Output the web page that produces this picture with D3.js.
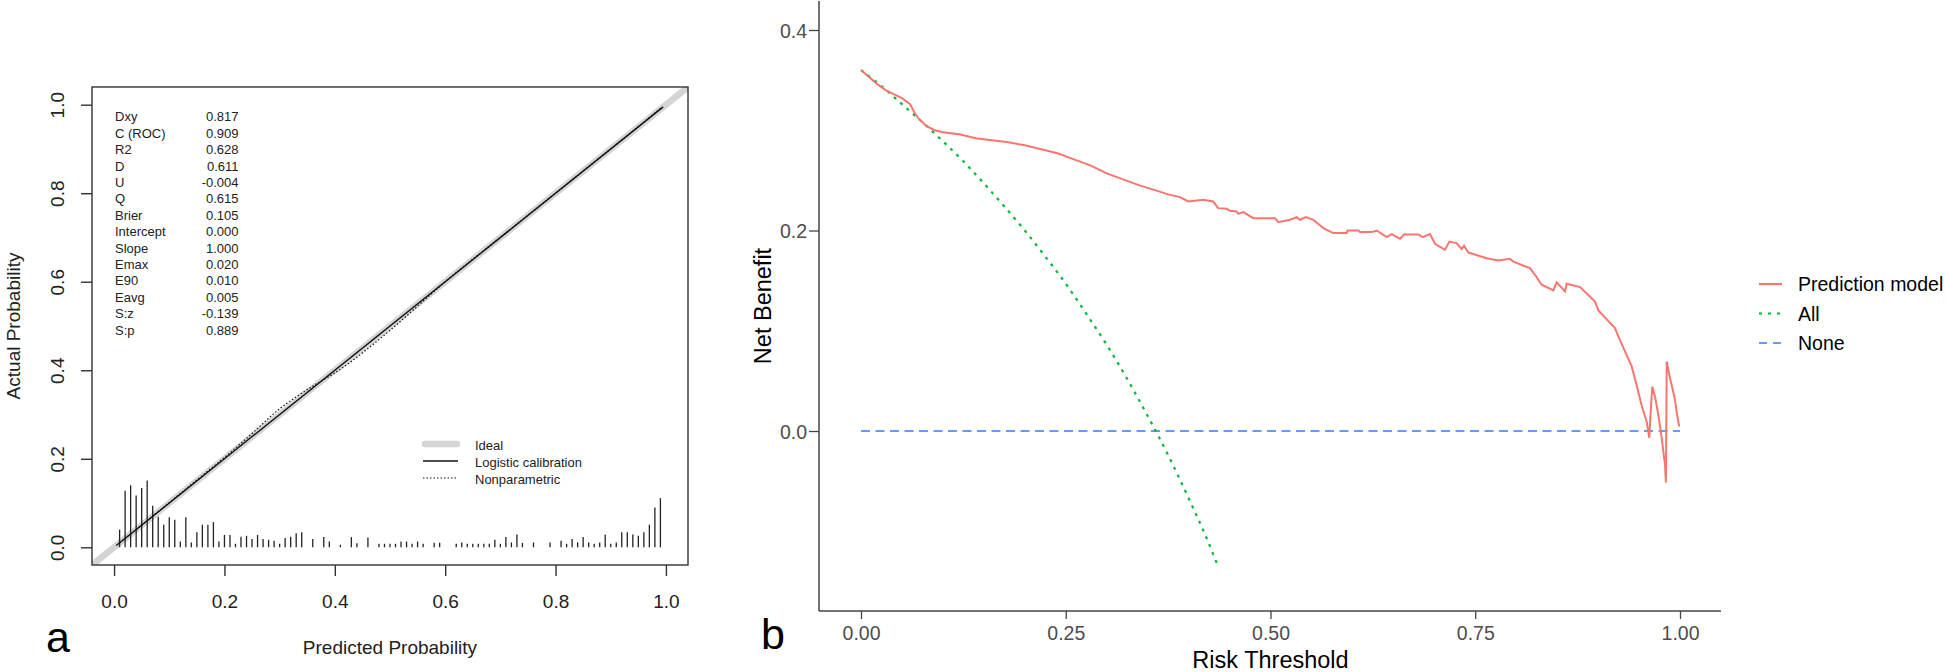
<!DOCTYPE html>
<html>
<head>
<meta charset="utf-8">
<script src="https://cdn.jsdelivr.net/npm/d3@7"></script>
<style>
body{margin:0;background:#fff;}
text{font-family:"Liberation Sans",Arial,sans-serif;}
</style>
</head>
<body>
<div class="box"></div>
<script>
// ---- panel a : calibration ----
const statLabels=['Dxy','C (ROC)','R2','D','U','Q','Brier','Intercept','Slope','Emax','E90','Eavg','S:z','S:p'];
const statValues=['0.817','0.909','0.628','0.611','-0.004','0.615','0.105','0.000','1.000','0.020','0.010','0.005','-0.139','0.889'];
const calTicks=[0,0.2,0.4,0.6,0.8,1.0];
const logisticX=[0.004,0.995];
const logisticY=[0.004,0.995];
const nonparX=[0.01,0.05,0.10,0.15,0.20,0.25,0.30,0.33,0.36,0.40,0.43,0.46,0.50,0.55,0.60,0.70,0.80,0.90,0.95,0.99];
const nonparY=[0.010,0.050,0.101,0.152,0.203,0.257,0.313,0.340,0.364,0.394,0.420,0.449,0.490,0.545,0.600,0.700,0.800,0.900,0.950,0.992];
const spikes=[[0.01,0.040],[0.02,0.128],[0.03,0.140],[0.04,0.117],[0.05,0.134],[0.06,0.151],[0.07,0.094],[0.08,0.069],[0.09,0.051],[0.10,0.068],
[0.11,0.062],[0.12,0.013],[0.13,0.068],[0.14,0.011],[0.15,0.034],[0.16,0.051],[0.17,0.051],[0.18,0.057],[0.19,0.013],[0.20,0.028],
[0.21,0.028],[0.22,0.008],[0.23,0.024],[0.24,0.026],[0.25,0.019],[0.26,0.028],[0.27,0.019],[0.28,0.017],[0.29,0.015],[0.30,0.008],
[0.31,0.021],[0.32,0.024],[0.33,0.032],[0.34,0.034],[0.36,0.019],[0.38,0.023],[0.39,0.013],[0.41,0.006],[0.43,0.023],[0.44,0.009],
[0.46,0.022],[0.48,0.008],[0.49,0.008],[0.50,0.008],[0.51,0.008],[0.52,0.013],[0.53,0.013],[0.54,0.008],[0.55,0.013],[0.56,0.008],
[0.58,0.010],[0.59,0.010],[0.62,0.008],[0.63,0.011],[0.64,0.008],[0.65,0.008],[0.66,0.008],[0.67,0.008],[0.68,0.008],[0.69,0.017],
[0.70,0.008],[0.71,0.023],[0.72,0.011],[0.73,0.029],[0.74,0.010],[0.76,0.011],[0.79,0.011],[0.81,0.015],[0.82,0.008],[0.83,0.019],
[0.84,0.011],[0.85,0.023],[0.86,0.011],[0.87,0.008],[0.88,0.011],[0.89,0.029],[0.90,0.008],[0.91,0.011],[0.92,0.034],[0.93,0.034],
[0.94,0.029],[0.95,0.026],[0.96,0.034],[0.97,0.051],[0.98,0.090],[0.99,0.111]];
const calLegend=['Ideal','Logistic calibration','Nonparametric'];

// ---- panel b : decision curve ----
const dcaXTicks=[0,0.25,0.5,0.75,1];
const dcaYTicks=[0,0.2,0.4];
const allX=[0,0.025,0.05,0.075,0.10,0.125,0.15,0.175,0.20,0.225,0.25,0.275,0.30,0.325,0.35,0.375,0.40,0.42,0.435];
const allY=[0.360,0.344,0.326,0.308,0.289,0.269,0.247,0.224,0.200,0.174,0.147,0.117,0.086,0.052,0.015,-0.024,-0.067,-0.103,-0.133];
const noneX=[0,1];
const noneY=[0,0];
const modelX=[0,0.01,0.02,0.03,0.04,0.05,0.06,0.065,0.07,0.08,0.09,0.10,0.12,0.14,0.16,0.18,0.20,0.22,0.24,0.26,0.28,0.30,0.32,0.34,0.36,0.375,
0.3895,0.3997,0.418,0.430,0.436,0.4465,0.4505,0.4587,0.4607,0.4668,0.479,0.5055,0.5096,0.5238,0.532,0.536,0.5433,0.5523,0.5645,0.5767,
0.593,0.594,0.6072,0.6093,0.6236,0.6297,0.6419,0.648,0.6581,0.663,0.6805,0.6858,0.6947,0.7009,0.713,0.7184,0.7273,0.7334,0.7363,0.7415,
0.764,0.778,0.7924,0.7965,0.8168,0.823,0.8311,0.8453,0.8494,0.8596,0.8616,0.878,0.8962,0.9003,0.9206,0.9247,0.9328,0.941,0.947,0.953,
0.9593,0.9625,0.9642,0.9662,0.9695,0.9736,0.9777,0.9817,0.9828,0.9838,0.9875,0.9936,0.9965,0.999];
const modelY=[0.360,0.353,0.346,0.340,0.336,0.332,0.326,0.318,0.312,0.304,0.300,0.298,0.296,0.292,0.290,0.288,0.285,0.281,0.277,0.271,0.265,0.257,0.251,0.245,0.240,0.236,
0.2333,0.229,0.2306,0.229,0.2223,0.2216,0.2196,0.219,0.2166,0.2183,0.2123,0.2123,0.2083,0.2107,0.2133,0.2107,0.2133,0.2107,0.2024,0.1974,
0.1974,0.200,0.200,0.1984,0.1984,0.200,0.1934,0.1964,0.1917,0.196,0.196,0.1934,0.1964,0.1867,0.1807,0.189,0.1874,0.1814,0.1847,0.178,
0.1724,0.170,0.1717,0.169,0.1624,0.1558,0.1459,0.1402,0.1482,0.1392,0.1469,0.1436,0.1292,0.1203,0.1027,0.0943,0.0794,0.0644,0.046,0.026,
0.0093,-0.0067,0.0192,0.0442,0.0342,0.016,-0.0073,-0.0339,-0.0515,0.0694,0.054,0.0325,0.016,0.0043];
const dcaLegend=['Prediction model','All','None'];
const dcaColors=['#F8766D','#00BA38','#619CFF'];
const dcaDash=[null,'3,5.5','9,5.5'];
const legDash=[null,'3,6','8,6'];

const svg=d3.select('.box').append('svg').attr('width',1946).attr('height',672).style('background','white');
const ink='#333';

// ===== panel a =====
const xL=d3.scaleLinear().domain([-0.04,1.04]).range([92,688]);
const yL=d3.scaleLinear().domain([-0.04,1.04]).range([565,87]);
const gA=svg.append('g');
gA.append('clipPath').attr('id','clipA').append('rect')
  .attr('x',xL(-0.04)).attr('y',yL(1.04)).attr('width',xL(1.04)-xL(-0.04)).attr('height',yL(-0.04)-yL(1.04));

// ideal line
gA.append('line').attr('clip-path','url(#clipA)')
  .attr('x1',xL(-0.04)).attr('y1',yL(-0.04)).attr('x2',xL(1.04)).attr('y2',yL(1.04))
  .attr('stroke','#d4d4d4').attr('stroke-width',6.5);

// spike histogram
gA.selectAll('line.spike').data(spikes).enter().append('line').attr('class','spike')
  .attr('x1',d=>xL(d[0])).attr('x2',d=>xL(d[0]))
  .attr('y1',yL(0)).attr('y2',d=>yL(d[1]))
  .attr('stroke','#222').attr('stroke-width',1.3);

const lineL=d3.line().x(d=>xL(d[0])).y(d=>yL(d[1]));
gA.append('path').datum(logisticX.map((v,i)=>[v,logisticY[i]]))
  .attr('d',lineL).attr('fill','none').attr('stroke','#111').attr('stroke-width',1.4);
gA.append('path').datum(nonparX.map((v,i)=>[v,nonparY[i]]))
  .attr('d',lineL.curve(d3.curveMonotoneX)).attr('fill','none').attr('stroke','#111').attr('stroke-width',1.2).attr('stroke-dasharray','1.5,2');

// box
gA.append('rect').attr('x',xL(-0.04)).attr('y',yL(1.04))
  .attr('width',xL(1.04)-xL(-0.04)).attr('height',yL(-0.04)-yL(1.04))
  .attr('fill','none').attr('stroke',ink).attr('stroke-width',1.4);

// axes
const axAx=gA.append('g').attr('transform',`translate(0,${yL(-0.04)})`)
  .call(d3.axisBottom(xL).tickValues(calTicks).tickSize(11).tickSizeOuter(0).tickFormat(d3.format('.1f')));
axAx.select('.domain').remove();
axAx.selectAll('line').attr('stroke',ink).attr('stroke-width',1.4);
axAx.selectAll('text').attr('y',43).attr('dy',0).attr('font-size',19).attr('fill','#222');

const axAy=gA.append('g').attr('transform',`translate(${xL(-0.04)},0)`)
  .call(d3.axisLeft(yL).tickValues(calTicks).tickSize(11).tickSizeOuter(0).tickFormat(d3.format('.1f')));
axAy.select('.domain').remove();
axAy.selectAll('line').attr('stroke',ink).attr('stroke-width',1.4);
axAy.selectAll('text').attr('transform','rotate(-90)').attr('x',0).attr('y',-28.5).attr('dy',0)
  .attr('text-anchor','middle').attr('font-size',19).attr('fill','#222');

gA.append('text').attr('x',(xL(0)+xL(1))/2).attr('y',654).attr('text-anchor','middle')
  .attr('font-size',19).attr('fill','#222').text('Predicted Probability');
gA.append('text').attr('transform',`translate(20,${(yL(-0.04)+yL(1.04))/2}) rotate(-90)`)
  .attr('text-anchor','middle').attr('font-size',19).attr('fill','#222').text('Actual Probability');

// stats block
const stats=gA.append('g');
statLabels.forEach((lab,i)=>{
  const yy=121.4+i*16.4;
  stats.append('text').attr('x',115).attr('y',yy).attr('font-size',13).attr('fill','#222').text(lab);
  stats.append('text').attr('x',238.5).attr('y',yy).attr('text-anchor','end').attr('font-size',13).attr('fill','#222').text(statValues[i]);
});

// legend a
const legA=gA.append('g');
calLegend.forEach((lab,i)=>{
  const yy=445+i*17;
  legA.append('text').attr('x',475).attr('y',yy+5).attr('font-size',13).attr('fill','#222').text(lab);
});
legA.append('line').attr('x1',425).attr('x2',457).attr('y1',444).attr('y2',444)
  .attr('stroke','#d4d4d4').attr('stroke-width',6.5).attr('stroke-linecap','round');
legA.append('line').attr('x1',423).attr('x2',458).attr('y1',461).attr('y2',461)
  .attr('stroke','#111').attr('stroke-width',1.4);
legA.append('line').attr('x1',423).attr('x2',456).attr('y1',478).attr('y2',478)
  .attr('stroke','#111').attr('stroke-width',1.2).attr('stroke-dasharray','1.5,2');

svg.append('text').attr('x',46).attr('y',652).attr('font-family','"Open Sans",sans-serif')
  .attr('font-size',43).attr('fill','#000').text('a');

// ===== panel b =====
const xR=d3.scaleLinear().domain([0,1]).range([861,1680]);
const yR=d3.scaleLinear().domain([0,0.4]).range([431,30]);
const gB=svg.append('g');
const panelLeft=819, panelBottom=611;

// axis lines
gB.append('line').attr('x1',panelLeft).attr('x2',panelLeft).attr('y1',1).attr('y2',panelBottom)
  .attr('stroke','#444').attr('stroke-width',1.5);
gB.append('line').attr('x1',panelLeft).attr('x2',xR(1.05)).attr('y1',panelBottom).attr('y2',panelBottom)
  .attr('stroke','#444').attr('stroke-width',1.5);

const axBx=gB.append('g').attr('transform',`translate(0,${panelBottom})`)
  .call(d3.axisBottom(xR).tickValues(dcaXTicks).tickSize(8).tickSizeOuter(0).tickFormat(d3.format('.2f')));
axBx.select('.domain').remove();
axBx.selectAll('line').attr('stroke','#444').attr('stroke-width',1.3);
axBx.selectAll('text').attr('y',29).attr('dy',0).attr('font-size',19.5).attr('fill','#4D4D4D');

const axBy=gB.append('g').attr('transform',`translate(${panelLeft},0)`)
  .call(d3.axisLeft(yR).tickValues(dcaYTicks).tickSize(10).tickSizeOuter(0).tickFormat(d3.format('.1f')));
axBy.select('.domain').remove();
axBy.selectAll('line').attr('stroke','#444').attr('stroke-width',1.3);
axBy.selectAll('text').attr('x',-12).attr('dy','0.36em').attr('font-size',19.5).attr('fill','#4D4D4D');

gB.append('text').attr('x',(xR(0)+xR(1))/2).attr('y',668).attr('text-anchor','middle')
  .attr('font-size',23.5).attr('fill','#000').text('Risk Threshold');
gB.append('text').attr('transform',`translate(771,${(1+panelBottom)/2}) rotate(-90)`)
  .attr('text-anchor','middle').attr('font-size',23.5).attr('fill','#000').text('Net Benefit');

const lineR=d3.line().x(d=>xR(d[0])).y(d=>yR(d[1]));
const series=[
  modelX.map((v,i)=>[v,modelY[i]]),
  allX.map((v,i)=>[v,allY[i]]),
  noneX.map((v,i)=>[v,noneY[i]])
];
// draw None, All then model on top
[2,1,0].forEach(k=>{
  const p=gB.append('path').datum(series[k])
    .attr('d',k===1?lineR.curve(d3.curveMonotoneX)(series[k]):d3.line().x(d=>xR(d[0])).y(d=>yR(d[1]))(series[k]))
    .attr('fill','none').attr('stroke',dcaColors[k]).attr('stroke-width',k===0?2:2.2);
  if(dcaDash[k]) p.attr('stroke-dasharray',dcaDash[k]);
});

// legend b
const legB=gB.append('g');
dcaLegend.forEach((lab,i)=>{
  const yy=284+i*29.5;
  const l=legB.append('line').attr('x1',1759).attr('x2',1782).attr('y1',yy).attr('y2',yy)
    .attr('stroke',dcaColors[i]).attr('stroke-width',2.2);
  if(legDash[i]) l.attr('stroke-dasharray',legDash[i]);
  legB.append('text').attr('x',1798).attr('y',yy).attr('dy','0.36em')
    .attr('font-size',19.5).attr('fill','#000').text(lab);
});

svg.append('text').attr('x',761).attr('y',649).attr('font-family','"Open Sans",sans-serif')
  .attr('font-size',43).attr('fill','#000').text('b');
</script>
</body>
</html>
